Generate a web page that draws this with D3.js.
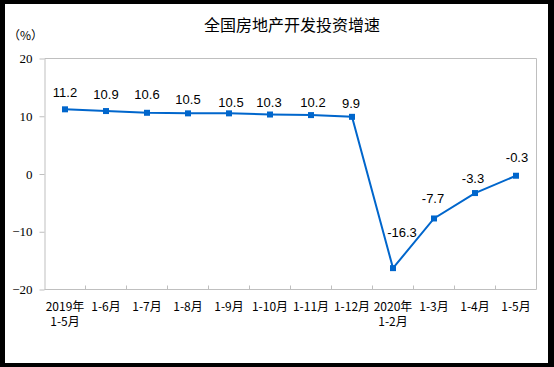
<!DOCTYPE html>
<html>
<head>
<meta charset="utf-8">
<script src="https://cdn.jsdelivr.net/npm/d3@7"></script>
<style>
html,body{margin:0;padding:0;background:#000;}
svg{display:block;}
</style>
</head>
<body>
<svg id="chart" width="554" height="367"></svg>
<script>
const title = "全国房地产开发投资增速";
const unitLabel = "（%）";
const categories = [
  ["2019年", "1-5月"], ["1-6月"], ["1-7月"], ["1-8月"], ["1-9月"], ["1-10月"],
  ["1-11月"], ["1-12月"], ["2020年", "1-2月"], ["1-3月"], ["1-4月"], ["1-5月"]
];
const values = [11.2, 10.9, 10.6, 10.5, 10.5, 10.3, 10.2, 9.9, -16.3, -7.7, -3.3, -0.3];
const valueLabels = ["11.2", "10.9", "10.6", "10.5", "10.5", "10.3", "10.2", "9.9", "-16.3", "-7.7", "-3.3", "-0.3"];
const yTicks = [-20, -10, 0, 10, 20];

// label nudges (styling, px)
const labelNudge = [[0,-17],[0,-17],[0,-18],[0,-14],[2,-11],[-1,-12],[2,-13],[-1,-13],[9,-36],[-1,-20],[-2,-15],[1,-18]];

const svg = d3.select("#chart");
const W = 554, H = 367;
svg.append("rect").attr("x",0).attr("y",0).attr("width",W).attr("height",H).attr("fill","#000");
svg.append("rect").attr("x",5).attr("y",4).attr("width",543).attr("height",359).attr("fill","#fff");

const plot = {left: 44.5, right: 536.5, top: 58.5, bottom: 289.5};
const idx = d3.range(values.length);
const x = d3.scaleBand().domain(idx).range([plot.left, plot.right]).paddingInner(0).paddingOuter(0);
const y = d3.scaleLinear().domain([-20, 20]).range([plot.bottom, plot.top]);
const gray = "#BFBFBF";

// title
svg.append("text").attr("x", 292).attr("y", 31).attr("text-anchor","middle")
  .attr("font-family","'Noto Sans CJK SC', sans-serif").attr("font-size",16).attr("fill","#000")
  .text(title);
svg.append("text").attr("x", 8).attr("y", 40)
  .attr("font-family","'Noto Sans CJK SC', sans-serif").attr("font-size",12).attr("fill","#000")
  .text(unitLabel);

// plot border (top & right)
svg.append("path").attr("d", `M${plot.left},${plot.top}H${plot.right}V${plot.bottom}`)
  .attr("fill","none").attr("stroke",gray).attr("stroke-width",1);

// y axis
const yAxis = d3.axisLeft(y).tickValues(yTicks).tickSize(5).tickSizeOuter(0).tickFormat(d3.format("d"));
const gy = svg.append("g").attr("transform",`translate(${plot.left},0)`).call(yAxis);
gy.select(".domain").attr("stroke",gray);
gy.selectAll(".tick line").attr("stroke",gray);
gy.selectAll(".tick text").attr("x",-12).attr("font-family","'Liberation Serif', serif").attr("font-size",13).attr("fill","#000");

// x axis
const boundaries = idx.slice(1).map(i => x(i));
const gx = svg.append("g").attr("transform",`translate(0,${plot.bottom})`);
gx.append("line").attr("x1",plot.left).attr("x2",plot.right).attr("stroke",gray);
gx.selectAll("line.tk").data(boundaries).join("line").attr("class","tk")
  .attr("x1",d=>d).attr("x2",d=>d).attr("y1",0).attr("y2",-4).attr("stroke",gray);
const xl = gx.selectAll("text.cat").data(categories).join("text").attr("class","cat")
  .attr("text-anchor","middle")
  .attr("font-family","'Noto Sans CJK SC', sans-serif").attr("font-size",12).attr("fill","#000");
xl.each(function(d,i){
  const t = d3.select(this);
  d.forEach((line,j)=>{
    t.append("tspan").attr("x", x(i)+x.bandwidth()/2).attr("y", 21 + j*15.5).text(line);
  });
});

// line
const cx = i => x(i) + x.bandwidth()/2;
const line = d3.line().x((d,i)=>cx(i)).y(d=>y(d));
svg.append("path").datum(values).attr("d",line).attr("fill","none")
  .attr("stroke","#0066CC").attr("stroke-width",2).attr("stroke-linejoin","miter");
svg.selectAll("rect.mk").data(values).join("rect").attr("class","mk")
  .attr("x",(d,i)=>cx(i)-3).attr("y",d=>y(d)-3).attr("width",6).attr("height",6).attr("fill","#0066CC");

// value labels
svg.selectAll("text.val").data(values).join("text").attr("class","val")
  .attr("x",(d,i)=>cx(i)+labelNudge[i][0]).attr("y",(d,i)=>y(d)+labelNudge[i][1]+4.5)
  .attr("text-anchor","middle").attr("font-family","'Liberation Sans', Arial, sans-serif")
  .attr("font-size",13).attr("fill","#000").text((d,i)=>valueLabels[i]);
</script>
</body>
</html>
